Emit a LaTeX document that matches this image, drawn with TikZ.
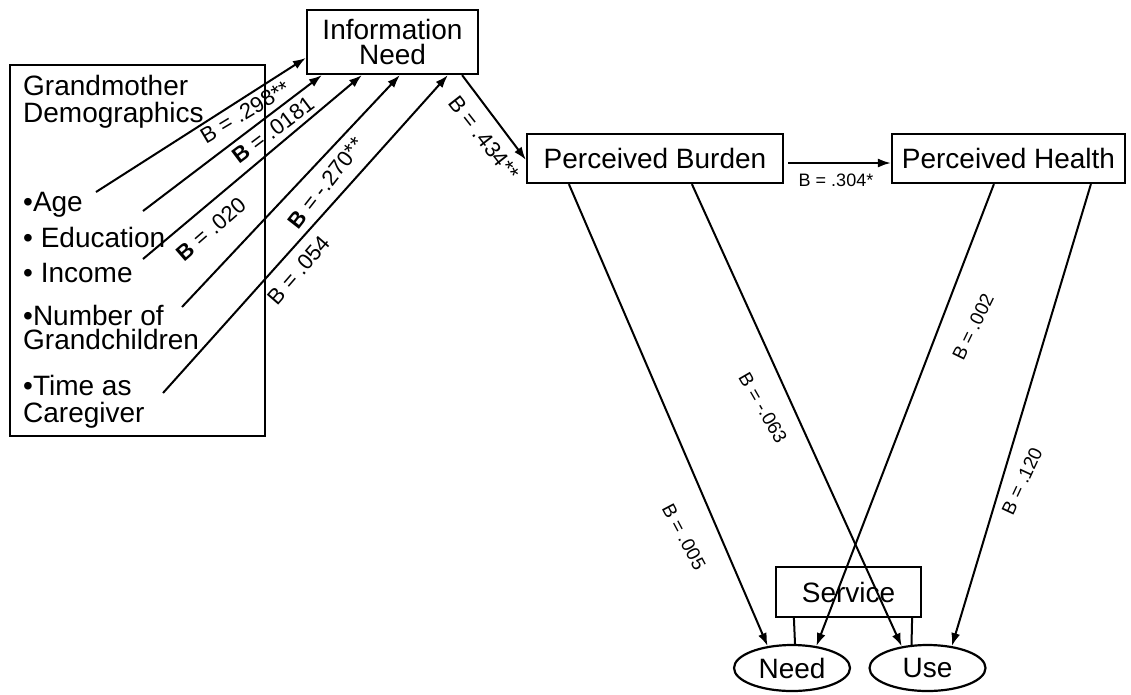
\documentclass[tikz,border=0pt]{standalone}
\usepackage{fontspec}
\setmainfont{Liberation Sans}
\usetikzlibrary{arrows.meta,calc,shapes.geometric}
\begin{document}
\begin{tikzpicture}[x=1pt,y=-1pt,
  box/.style={draw,line width=2.2pt,inner sep=0pt,align=center,font=\fontsize{28}{25}\selectfont},
  oval/.style={draw,ellipse,line width=2.2pt,inner sep=0pt,minimum width=116pt,minimum height=46pt,font=\fontsize{28}{28}\selectfont},
  arr/.style={line width=2pt,-{Latex[length=13pt,width=9pt]}},
  ln/.style={line width=2pt},
  txt/.style={anchor=base west,inner sep=0pt,font=\fontsize{28}{28}\selectfont},
  lab/.style={inner sep=0pt,font=\fontsize{22}{22}\selectfont},
  rlab/.style={inner sep=0pt,font=\fontsize{19}{19}\selectfont},
  slab/.style={inner sep=0pt,font=\fontsize{18}{18}\selectfont},
]
\useasboundingbox[fill=white] (0,0) rectangle (1131,694);

% boxes
\node[box,minimum width=255pt,minimum height=371pt] (demo) at (137.5,250.5) {};
\node[box,minimum width=171pt,minimum height=64pt] (info) at (392.5,42) {Information\\Need};
\node[box,minimum width=256pt,minimum height=49pt] (burden) at (655,158.5) {Perceived Burden};
\node[box,minimum width=233pt,minimum height=49pt] (health) at (1008.5,158.5) {Perceived Health};
\node[box,minimum width=145pt,minimum height=50pt] (service) at (848.5,592) {Service};
\node[oval] (need) at (792,668) {Need};
\node[oval] (use) at (927.5,668) {Use};

% demographics text
\node[txt] (t1) at (23,95) {Grandmother};
\node[txt] (t2) at (23,122) {Demographics};
\node[txt] (t3) at (23,211) {•Age};
\node[txt] (t4) at (23,247) {• Education};
\node[txt] (t5) at (23,282) {• Income};
\node[txt] (t6) at (23,325) {•Number of};
\node[txt] (t7) at (23,349) {Grandchildren};
\node[txt] (t8) at (23,395) {•Time as};
\node[txt] (t9) at (23,422) {Caregiver};

% start points
\coordinate (sAge) at (96,192);
\coordinate (sEdu) at (143,211);
\coordinate (sInc) at (143,259);
\coordinate (sNum) at (182,307);
\coordinate (sTime) at (163,393);

% arrows to information need
\draw[arr] (sAge) -- ($(info.north west)+(0,49)$);
\draw[arr] (sEdu) -- ($(info.south west)+(16,0)$);
\draw[arr] (sInc) -- ($(info.south west)+(56,0)$);
\draw[arr] (sNum) -- ($(info.south west)+(94,0)$);
\draw[arr] (sTime) -- ($(info.south west)+(142,0)$);

% info -> burden
\draw[arr] ($(info.south east)+(-17,0)$) -- ($(burden.north west)+(0,27)$);
% burden -> health
\draw[arr] ($(burden.east)+(4,4.5)$) -- ($(health.west)+(0,4.5)$);

% to need / use
\draw[arr] ($(burden.south west)+(43,0)$) -- (need.138);
\draw[arr] ($(burden.south west)+(166,0)$) -- (use.140);
\draw[arr] ($(health.south west)+(103,0)$) -- (need.42);
\draw[arr] ($(health.south west)+(200,0)$) -- (use.42);

% service connectors
\draw[ln] ($(service.south west)+(19,0)$) -- ($(need.north)+(3,0)$);
\draw[ln] ($(service.south east)+(-10,0)$) -- ($(use.north)+(-16,1)$);

% labels
\node[lab,rotate=31] (l1) at (245,112) {B = .298**};
\node[lab,rotate=37] (l2) at (273,130) {\textbf{B} = .0181};
\node[lab,rotate=41] (l3) at (211,229) {\textbf{B} = .020};
\node[lab,rotate=52] (l4) at (326,183) {\textbf{B} = -.270**};
\node[lab,rotate=49] (l5) at (299,270) {B = .054};
\node[lab,rotate=-52] (l6) at (484,138) {B = .434**};
\node[slab] (l7) at (836,180) {B = .304*};
\node[rlab,rotate=-60] (l8) at (763,408) {B = -.063};
\node[rlab,rotate=-62] (l9) at (684,537) {B = .005};
\node[rlab,rotate=64] (l10) at (973,327) {B = .002};
\node[rlab,rotate=65] (l11) at (1022,481) {B = .120};
\end{tikzpicture}
\end{document}
